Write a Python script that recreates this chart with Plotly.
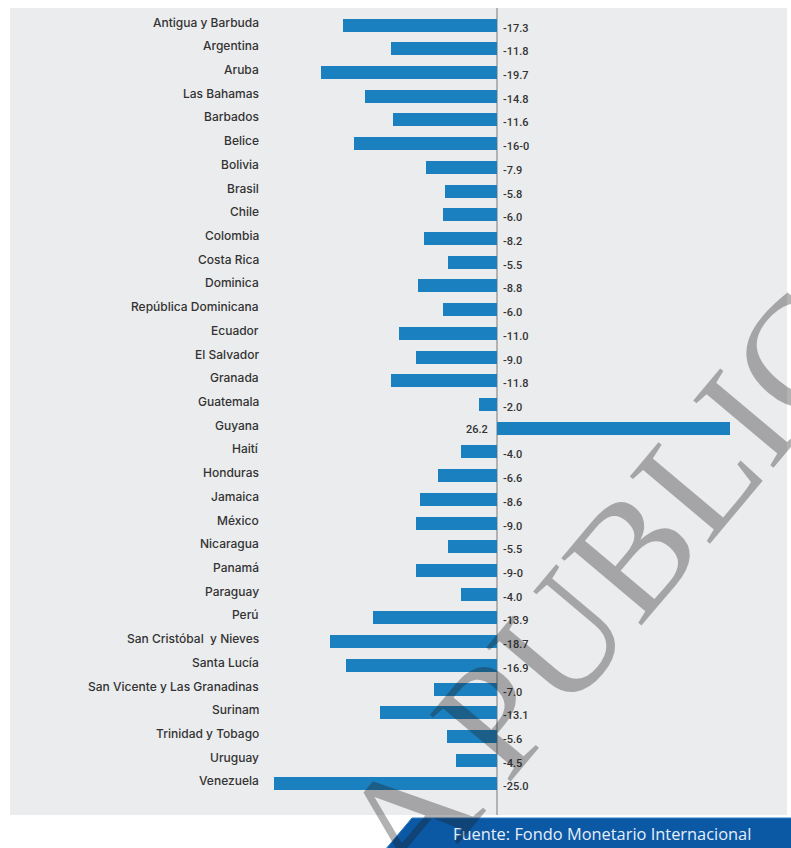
import plotly.graph_objects as go

# Variación del PIB 2020 (%) por país
paises = [
    "Antigua y Barbuda", "Argentina", "Aruba", "Las Bahamas", "Barbados", "Belice",
    "Bolivia", "Brasil", "Chile", "Colombia", "Costa Rica", "Dominica",
    "República Dominicana", "Ecuador", "El Salvador", "Granada", "Guatemala", "Guyana",
    "Haití", "Honduras", "Jamaica", "México", "Nicaragua", "Panamá", "Paraguay", "Perú",
    "San Cristóbal  y Nieves", "Santa Lucía", "San Vicente y Las Granadinas", "Surinam",
    "Trinidad y Tobago", "Uruguay", "Venezuela",
]
valores = [
    -17.3, -11.8, -19.7, -14.8, -11.6, -16.0,
    -7.9, -5.8, -6.0, -8.2, -5.5, -8.8,
    -6.0, -11.0, -9.0, -11.8, -2.0, 26.2,
    -4.0, -6.6, -8.6, -9.0, -5.5, -9.0, -4.0, -13.9,
    -18.7, -16.9, -7.0, -13.1,
    -5.6, -4.5, -25.0,
]
etiquetas = [
    "-17.3", "-11.8", "-19.7", "-14.8", "-11.6", "-16-0",
    "-7.9", "-5.8", "-6.0", "-8.2", "-5.5", "-8.8",
    "-6.0", "-11.0", "-9.0", "-11.8", "-2.0", "26.2",
    "-4.0", "-6.6", "-8.6", "-9.0", "-5.5", "-9-0", "-4.0", "-13.9",
    "-18.7", "-16.9", "-7.0", "-13.1",
    "-5.6", "-4.5", "-25.0",
]
fuente = "Fuente: Fondo Monetario Internacional"
marca = "LA PUBLICIDAD"

W, H = 791, 848
ML, MR, MT, MB = 10, 4, 8, 33
PW, PH = W - ML - MR, H - MT - MB

def px_x(px):
    return (px - ML) / PW

def px_y(py):
    return (H - MB - py) / PH

AZUL = "#1a80bf"
TEXTO = "#333333"

fig = go.Figure(
    go.Bar(
        x=valores,
        y=paises,
        orientation="h",
        width=0.55,
        marker=dict(color=AZUL, line=dict(width=0)),
        hoverinfo="x+y",
    )
)

anotaciones = []
for pais, v, et in zip(paises, valores, etiquetas):
    anotaciones.append(dict(
        x=px_x(261), xref="paper", y=pais, yref="y",
        text=pais, showarrow=False, xanchor="right", yanchor="middle",
        yshift=3, font=dict(family="Inter", size=12, color=TEXTO, weight=500),
    ))
    if v < 0:
        anotaciones.append(dict(
            x=0, xref="x", y=pais, yref="y", text=et, showarrow=False,
            xanchor="left", yanchor="middle", xshift=4, yshift=-3,
            font=dict(family="Roboto", size=11, color=TEXTO, weight=500),
        ))
    else:
        anotaciones.append(dict(
            x=0, xref="x", y=pais, yref="y", text=et, showarrow=False,
            xanchor="right", yanchor="middle", xshift=-7, yshift=-1,
            font=dict(family="Roboto", size=11, color=TEXTO, weight=500),
        ))

# pie de fuente
anotaciones.append(dict(
    x=px_x(451), xref="paper", y=px_y(833), yref="paper", text=fuente,
    showarrow=False, xanchor="left", yanchor="middle",
    font=dict(family="Open Sans", size=16.4, color="#e6eef9"),
))

# marca de agua diagonal
anotaciones.append(dict(
    x=px_x(698), xref="paper", y=px_y(474), yref="paper", text=marca,
    showarrow=False, xanchor="center", yanchor="middle", textangle=-50,
    font=dict(family="Liberation Serif", size=160, color="rgba(30,30,30,0.34)"),
))

formas = [
    dict(
        type="path", xref="paper", yref="paper", layer="above",
        path=(f"M {px_x(412)},{px_y(818)} L {px_x(W + 2)},{px_y(818)} "
              f"L {px_x(W + 2)},{px_y(H + 2)} L {px_x(385)},{px_y(H + 2)} Z"),
        fillcolor="#0b58a5", line=dict(color="#2f7cc4", width=1),
    ),
]

fig.update_layout(
    width=W, height=H,
    margin=dict(l=ML, r=MR, t=MT, b=MB, pad=0),
    paper_bgcolor="white",
    plot_bgcolor="#ebecee",
    showlegend=False,
    bargap=0,
    xaxis=dict(
        range=[(ML - 496.5) / 8.9, (W - MR - 496.5) / 8.9],
        showticklabels=False, showgrid=False, ticks="",
        zeroline=True, zerolinecolor="#b2b2b2", zerolinewidth=2,
        fixedrange=True,
    ),
    yaxis=dict(
        type="category", categoryorder="array", categoryarray=paises,
        range=[33.31, -0.72], showticklabels=False, showgrid=False,
        ticks="", zeroline=False, fixedrange=True,
    ),
    annotations=anotaciones,
    shapes=formas,
)

fig.write_html("out.html")
